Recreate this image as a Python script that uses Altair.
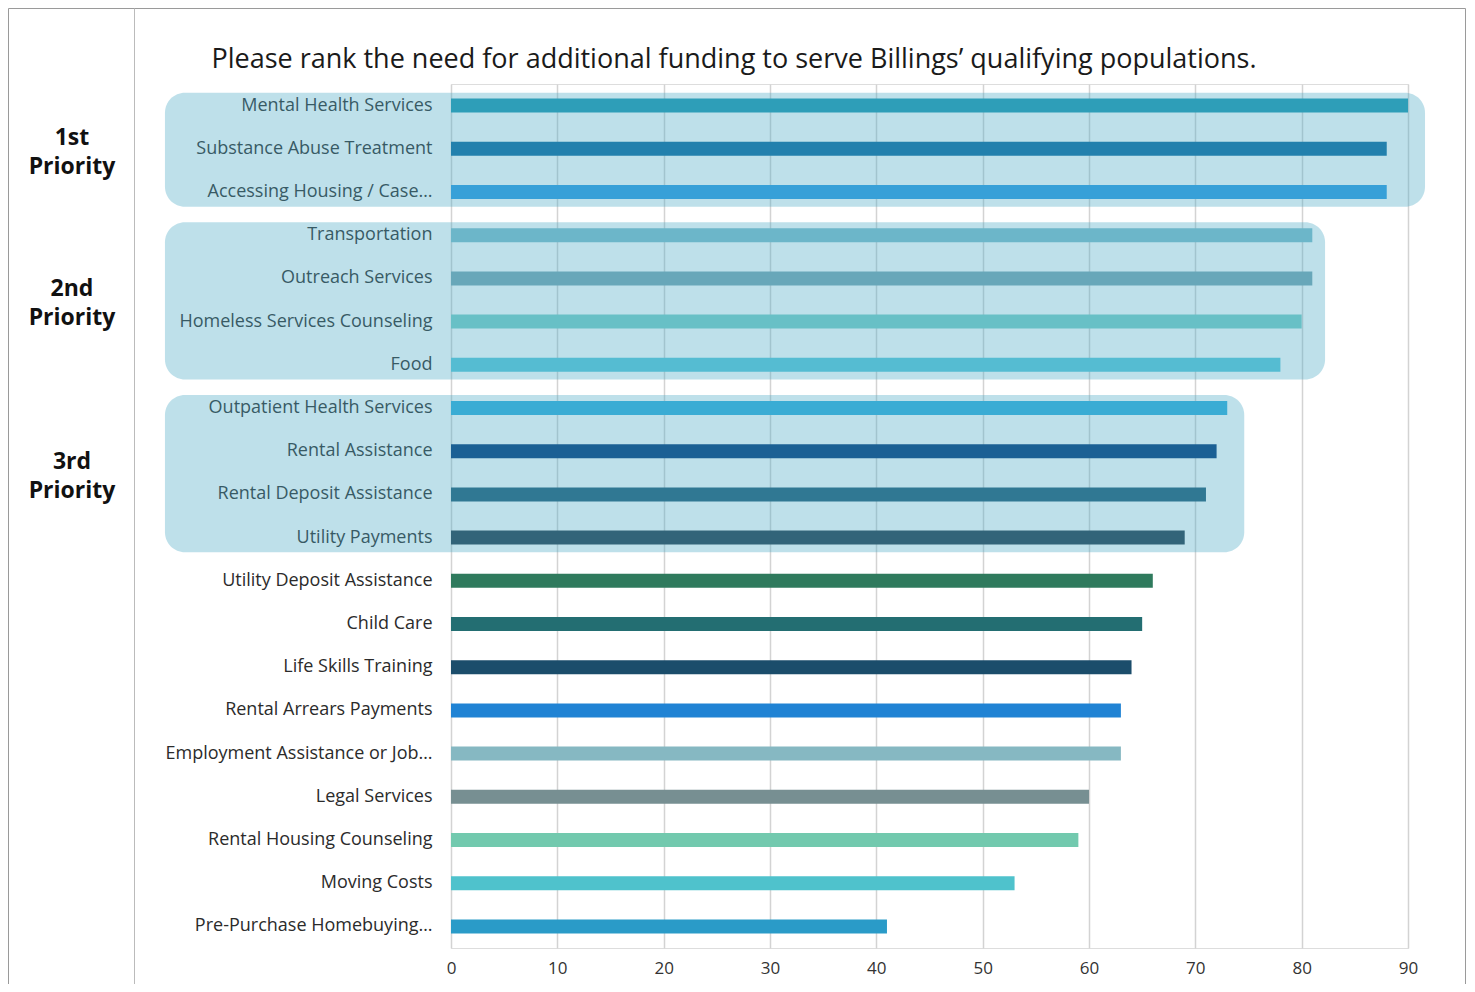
import altair as alt
import pandas as pd

# ---- data ----
categories = [
    "Mental Health Services", "Substance Abuse Treatment", "Accessing Housing / Case…",
    "Transportation", "Outreach Services", "Homeless Services Counseling", "Food",
    "Outpatient Health Services", "Rental Assistance", "Rental Deposit Assistance",
    "Utility Payments", "Utility Deposit Assistance", "Child Care", "Life Skills Training",
    "Rental Arrears Payments", "Employment Assistance or Job…", "Legal Services",
    "Rental Housing Counseling", "Moving Costs", "Pre-Purchase Homebuying…",
]
values = [90, 88, 88, 81, 81, 80, 78, 73, 72, 71, 69, 66, 65, 64, 63, 63, 60, 59, 53, 41]
colors = [
    "#2e9eb8", "#2280ad", "#37a0d8", "#6cb6c9", "#68a7b9", "#68c0c6", "#55bcd2",
    "#3aacd4", "#1b6094", "#307893", "#326479", "#2f7a5d", "#236e72", "#1b4d6b",
    "#2083d4", "#86b8c2", "#778f92", "#72c9ae", "#4fc2cc", "#2a9bc8",
]
group_labels = [["1st", "Priority"], ["2nd", "Priority"], ["3rd", "Priority"]]
group_first_row = [0, 3, 7]
group_last_row = [2, 6, 10]
group_box_end = [91.6, 82.2, 74.6]
title_text = "Please rank the need for additional funding to serve Billings\u2019 qualifying populations."
x_ticks = [0, 10, 20, 30, 40, 50, 60, 70, 80, 90]

FONT = "Open Sans"
W, H = 957, 864
N = len(categories)

df = pd.DataFrame({"cat": categories, "val": values, "row": list(range(N))})
gdf = pd.DataFrame({
    "lab": group_labels,
    "y0": [r + 0.5 - 0.3 for r in group_first_row],
    "y1": [r + 0.5 + 0.34 for r in group_last_row],
    "ym": [(a + b + 1) / 2 for a, b in zip(group_first_row, group_last_row)],
    "x0": [-26.9] * 3,
    "x1": group_box_end,
})

xscale = alt.Scale(domain=[0, 90], nice=False, zero=False)
yq = alt.Scale(domain=[0, N], reverse=True, nice=False, zero=False)
xaxis = alt.Axis(values=x_ticks, grid=True, gridColor="#d3d3d3", gridWidth=1.5,
                 domain=False, ticks=False, labelFontSize=17, labelColor="#333333",
                 labelPadding=12, labelFlush=False, labelFont=FONT, title=None, zindex=0)

boxes = alt.Chart(gdf).mark_rect(
    color="#4eacc6", opacity=0.37, cornerRadius=20
).encode(
    x=alt.X("x0:Q", scale=xscale, axis=xaxis),
    x2="x1:Q",
    y=alt.Y("y0:Q", scale=yq, axis=None),
    y2="y1:Q",
)

bars = alt.Chart(df).mark_bar(size=14).encode(
    x=alt.X("val:Q", scale=xscale, axis=xaxis),
    y=alt.Y("cat:N", sort=categories,
            scale=alt.Scale(paddingInner=0, paddingOuter=0),
            axis=alt.Axis(domain=False, ticks=False, grid=False, labelFontSize=18,
                          labelColor="#2b2b2b", labelPadding=19, labelFont=FONT,
                          labelLimit=400, title=None, zindex=0)),
    color=alt.Color("cat:N", scale=alt.Scale(domain=categories, range=colors), legend=None),
)

prio = alt.Chart(gdf).mark_text(
    font=FONT, fontSize=23, fontWeight="bold", color="#111111",
    align="center", baseline="middle", lineHeight=29, dy=-11,
).encode(
    x=alt.value(-379),
    y=alt.Y("ym:Q", scale=yq, axis=None),
    text="lab",
)

title = alt.Chart(pd.DataFrame({"t": [title_text]})).mark_text(
    font=FONT, fontSize=27, color="#1a1a1a", align="center", baseline="middle"
).encode(x=alt.value(283), y=alt.value(-24), text="t:N")

frame = alt.Chart(pd.DataFrame({"a": [0]})).mark_rect(
    fill="transparent", stroke="#9a9a9a", strokeWidth=1
).encode(x=alt.value(-442.5), x2=alt.value(1014.5), y=alt.value(-75.5), y2=alt.value(960))

divider = alt.Chart(pd.DataFrame({"a": [0]})).mark_rule(
    color="#bbbbbb", strokeWidth=1
).encode(x=alt.value(-316.5), y=alt.value(-75.5), y2=alt.value(960))

chart = alt.layer(boxes, bars, prio, title, frame, divider).resolve_scale(
    y="independent"
).properties(
    width=W, height=H,
    padding={"left": 443, "top": 76, "right": 59, "bottom": 36},
    autosize=alt.AutoSizeParams(type="none"),
).configure_view(strokeWidth=0).configure(font=FONT)

chart.save("out.html", embed_options={"renderer": "svg", "actions": False})
